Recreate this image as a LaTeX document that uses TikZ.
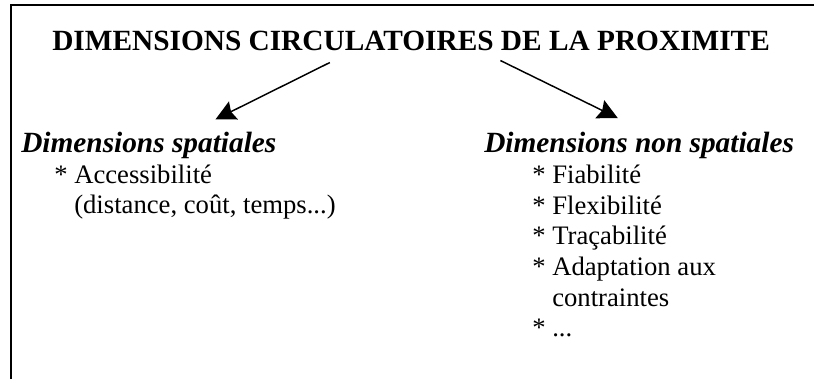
\documentclass[tikz,border=0pt]{standalone}
\usepackage{fontspec}
\setmainfont{Liberation Serif}
\usetikzlibrary{arrows.meta}

\begin{document}
\begin{tikzpicture}[x=0.75pt,y=-0.75pt,
    >={Stealth[length=15pt,width=15pt,inset=2pt]},
    every node/.style={inner sep=0pt,anchor=base west},
    titre/.style={font=\fontsize{22}{26}\selectfont\bfseries},
    dim/.style={font=\fontsize{22}{26}\selectfont\bfseries\itshape},
    item/.style={font=\fontsize{20}{23}\selectfont},
    fl/.style={->,line width=1.1pt}]
    \useasboundingbox (0,0) rectangle (814,379);
    % cadre (coupe a droite et en bas)
    \draw[line width=1.5pt] (11,379) -- (11,5) -- (814,5);

    \node[titre] (dcp) at (52,50) {DIMENSIONS CIRCULATOIRES DE LA PROXIMITE};
    \node[dim]   (ds)  at (21,152) {Dimensions spatiales};
    \node[dim]   (dns) at (484,152) {Dimensions non spatiales};

    \node[item] (acc)  at (54,183) {* Accessibilité};
    \node[item] (dist) at (74,213) {(distance, coût, temps...)};

    \node[item] (fia)  at (532,183) {* Fiabilité};
    \node[item] (fle)  at (532,214) {* Flexibilité};
    \node[item] (tra)  at (532,244) {* Traçabilité};
    \node[item] (ada)  at (532,275) {* Adaptation aux};
    \node[item] (con)  at (552,306) {contraintes};
    \node[item] (etc)  at (532,336) {* ...};

    \path ([xshift=-61pt,yshift=-9pt]dcp.south) edge[fl] ([xshift=50pt,yshift=9pt]ds.north)
          ([xshift=67pt,yshift=-7.5pt]dcp.south) edge[fl] ([xshift=-16pt,yshift=10pt]dns.north);
\end{tikzpicture}
\end{document}
